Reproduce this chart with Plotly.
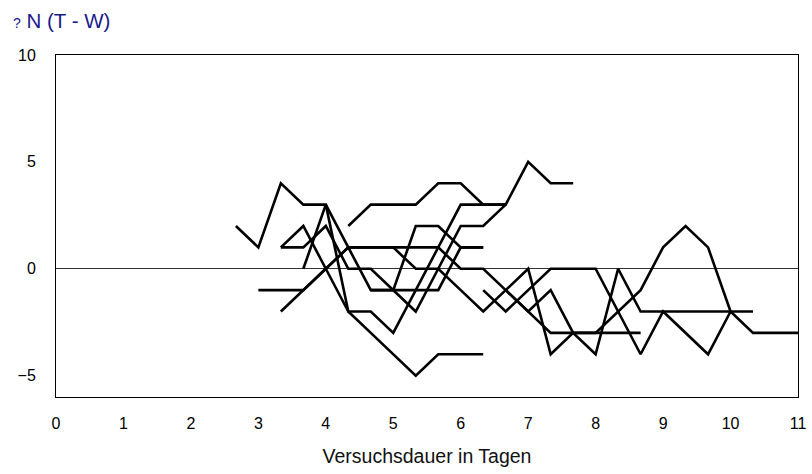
import plotly.graph_objects as go

# Each series: start time (in 1/3-day steps) and values at 8-hour (1/3 day) steps
STEP = 1 / 3
series_starts = [8, 13, 11, 10, 10, 9, 10, 14, 19, 20]
s1 = [2, 1, 4, 3, 3, -2, -3, -4, -5, -4, -4, -4]
s2 = [2, 3, 3, 3, 4, 4, 3, 3, 5, 4, 4]
s3 = [0, 3, 1, -1, -1, 2, 2, 1, 1]
s4 = [1, 2, 0, -2, -2, -3, -1, 1, 3, 3, 3]
s5 = [1, 1, 2, 0, 0, -1, -2, 0, 2, 2, 3]
s6 = [-1, -1, -1, 0, 1, 1, 1, 1, 1, 0, 0, -1, -2, -3, -3, -3, -3, -3]
s7 = [-2, -1, 0, 1, 1, 1, 0, 0, -1, -2, -1, 0, -4, -3, -3, -2, -1, 1, 2, 1, -2, -3, -3, -3]
s8 = [-1, -1, -1, -1, 1, 1]
s9 = [-1, -2, -1, 0, 0, 0, -2, -4, -2, -3, -4, -2]
s10 = [-1, -2, -1, -3, -4, 0, -2, -2, -2, -2, -2, -2]
all_series = [s1, s2, s3, s4, s5, s6, s7, s8, s9, s10]

x_ticks = list(range(0, 12))
y_ticks = [-5, 0, 5, 10]

fig = go.Figure()
for start, vals in zip(series_starts, all_series):
    xs = [(start + i) * STEP for i in range(len(vals))]
    fig.add_trace(go.Scatter(x=xs, y=vals, mode="lines",
                             line=dict(color="black", width=2.6),
                             showlegend=False, hoverinfo="skip"))

font_family = "Liberation Sans, Arial, Helvetica, sans-serif"
fig.update_layout(
    template="none",
    width=812, height=474,
    margin=dict(l=56, r=14, t=55, b=77),
    paper_bgcolor="white", plot_bgcolor="white",
    font=dict(family=font_family, size=16, color="black"),
    xaxis=dict(range=[0, 11], tickvals=x_ticks, showgrid=False, zeroline=False,
               automargin=False,
               showline=True, mirror=True, linecolor="black", linewidth=1,
               ticks="", ticklabelstandoff=12,
               tickfont=dict(size=16),
               title=dict(text="Versuchsdauer in Tagen", standoff=18,
                          font=dict(size=19.5, color="#111111"))),
    yaxis=dict(range=[-6, 10], tickvals=y_ticks, showgrid=False,
               automargin=False,
               zeroline=True, zerolinecolor="#333333", zerolinewidth=1,
               showline=True, mirror=True, linecolor="black", linewidth=1,
               ticks="", ticklabelstandoff=16, tickfont=dict(size=16)),
)
fig.add_annotation(xref="paper", yref="paper", x=-0.061, y=1.0, yshift=35,
                   xanchor="left", yanchor="middle", showarrow=False,
                   text="<span style='font-size:14px'>?</span> N (T - W)",
                   font=dict(size=20.5, color="#1a1a8a", family=font_family))
fig.write_html("out.html")
